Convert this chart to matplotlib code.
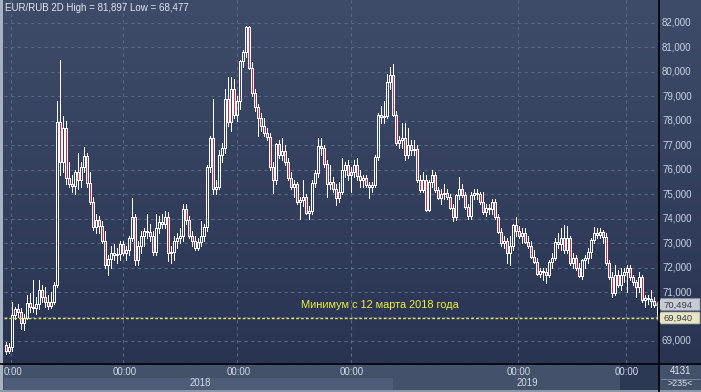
import matplotlib
matplotlib.use("Agg")
import matplotlib.pyplot as plt
import numpy as np
from matplotlib.patches import Rectangle, Polygon
from matplotlib.colors import LinearSegmentedColormap

plt.rcParams['font.family'] = ['Liberation Sans', 'DejaVu Sans']

# ---------------- data (EUR/RUB, 2D candles) ----------------
opens = [68.85, 68.60, 68.75, 70.05, 70.30, 70.20, 69.75, 69.95, 70.55, 70.40,
 70.35, 70.50, 71.10, 70.80, 70.60, 70.45, 70.60, 71.30, 77.95, 76.30,
 77.70, 75.66, 75.40, 75.35, 75.90, 75.60, 76.10, 76.55, 75.45, 74.70,
 73.65, 73.95, 73.70, 73.10, 72.10, 72.35, 72.60, 72.50, 72.55, 72.95,
 72.60, 72.70, 73.20, 74.05, 72.30, 72.90, 73.30, 73.50, 73.45, 73.30,
 72.65, 73.60, 73.85, 73.80, 74.05, 72.60, 72.65, 73.10, 73.20, 73.30,
 74.40, 73.95, 73.30, 73.10, 72.80, 73.05, 73.30, 73.65, 76.10, 77.30,
 75.20, 75.30, 76.60, 76.90, 78.90, 77.95, 79.30, 78.25, 78.80, 80.45,
 80.80, 81.84, 80.16, 79.14, 78.56, 78.10, 77.80, 77.50, 77.35, 76.10,
 75.58, 77.05, 76.60, 76.75, 76.30, 75.66, 75.30, 75.40, 74.68, 74.75,
 74.90, 74.25, 74.30, 75.45, 75.86, 76.97, 76.90, 76.23, 75.40, 75.50,
 75.20, 74.85, 75.10, 75.98, 76.20, 75.80, 75.90, 76.20, 75.75, 75.60,
 75.66, 75.38, 75.30, 75.38, 76.52, 78.24, 78.15, 78.20, 79.58, 79.87,
 78.24, 77.10, 77.20, 77.30, 76.60, 77.00, 76.80, 76.85, 75.58, 75.17,
 75.60, 74.35, 75.50, 75.80, 75.17, 74.85, 75.00, 75.05, 74.90, 74.45,
 74.07, 74.95, 75.20, 74.97, 74.48, 74.10, 74.97, 75.05, 75.00, 74.70,
 74.27, 74.45, 74.40, 74.68, 74.07, 73.45, 73.00, 73.10, 72.60, 72.90,
 73.74, 73.50, 73.30, 73.40, 73.05, 72.90, 72.45, 72.23, 71.74, 71.85,
 71.80, 71.70, 72.23, 72.40, 73.05, 72.95, 73.20, 72.70, 73.20, 72.20,
 72.40, 72.00, 71.65, 72.30, 72.40, 72.64, 73.13, 73.40, 73.35, 73.45,
 73.25, 72.18, 71.62, 70.96, 71.70, 71.30, 71.70, 71.80, 72.00, 71.60,
 71.40, 71.20, 71.60, 70.68, 70.75, 70.70, 70.62, 70.47]

highs = [68.95, 68.90, 70.60, 70.40, 70.50, 70.35, 70.10, 70.90, 70.95, 71.50,
 70.80, 71.50, 71.30, 71.20, 70.90, 71.00, 71.40, 78.80, 80.48, 78.20,
 78.00, 76.30, 75.80, 76.00, 76.70, 76.30, 76.95, 76.70, 75.90, 74.90,
 74.20, 74.10, 73.90, 73.50, 72.50, 72.90, 72.96, 72.80, 73.10, 73.10,
 72.90, 73.30, 74.85, 74.20, 73.10, 73.50, 73.60, 74.20, 73.80, 73.50,
 74.20, 74.10, 74.20, 74.30, 74.27, 72.90, 73.30, 73.40, 73.60, 74.60,
 74.60, 74.10, 73.50, 73.30, 73.20, 73.90, 73.80, 76.20, 77.40, 78.90,
 75.60, 76.80, 77.10, 79.30, 79.80, 79.80, 79.70, 79.00, 80.50, 80.90,
 81.88, 81.897, 80.40, 79.30, 78.70, 78.30, 78.10, 77.70, 77.50, 76.30,
 77.10, 77.20, 77.30, 77.00, 76.50, 75.90, 75.60, 75.50, 74.90, 75.60,
 75.00, 74.50, 75.60, 76.00, 77.30, 77.30, 77.00, 76.40, 76.20, 75.70,
 75.40, 75.50, 76.50, 76.30, 76.40, 76.10, 76.40, 76.50, 76.00, 75.80,
 75.80, 75.50, 75.50, 76.60, 78.30, 78.60, 78.80, 79.90, 80.20, 80.32,
 78.40, 77.40, 77.90, 77.90, 77.70, 77.20, 77.20, 77.00, 75.80, 75.90,
 75.80, 75.60, 76.00, 75.90, 75.30, 75.20, 75.40, 75.20, 75.00, 74.60,
 75.00, 75.70, 75.40, 75.10, 74.60, 75.10, 75.20, 75.20, 75.10, 75.10,
 74.60, 74.60, 74.80, 74.80, 74.20, 73.60, 73.30, 73.20, 73.30, 73.80,
 74.07, 73.70, 73.60, 73.60, 73.30, 73.10, 72.70, 72.40, 72.00, 72.00,
 72.00, 72.30, 72.60, 73.20, 73.40, 73.60, 73.74, 73.70, 73.30, 72.60,
 72.50, 72.20, 72.35, 72.50, 72.80, 73.20, 73.65, 73.60, 73.60, 73.55,
 73.40, 72.30, 71.80, 72.10, 71.90, 72.00, 72.00, 72.10, 72.10, 71.70,
 71.50, 71.80, 71.70, 70.90, 70.90, 71.10, 70.80, 70.60]

lows = [68.48, 68.50, 68.60, 69.90, 70.00, 69.50, 69.45, 69.90, 70.20, 70.20,
 70.10, 70.30, 70.60, 70.40, 70.30, 70.35, 70.50, 71.20, 75.80, 75.90,
 75.40, 75.30, 75.10, 75.00, 75.20, 75.30, 75.90, 75.30, 74.60, 73.55,
 73.40, 73.40, 73.00, 72.00, 71.70, 72.00, 72.30, 72.20, 72.30, 72.50,
 72.30, 72.50, 73.10, 72.10, 72.10, 72.60, 72.90, 73.20, 73.10, 72.50,
 72.50, 73.40, 73.60, 73.60, 72.25, 72.20, 72.30, 72.80, 73.00, 73.10,
 73.80, 73.20, 72.90, 72.70, 72.70, 72.90, 73.10, 73.50, 75.90, 75.00,
 75.00, 75.20, 76.30, 76.70, 77.80, 77.60, 78.10, 78.00, 78.50, 80.20,
 80.60, 80.10, 79.00, 78.40, 77.40, 77.60, 77.40, 77.20, 76.00, 75.05,
 75.40, 76.50, 76.40, 76.20, 75.60, 75.20, 74.90, 74.60, 74.00, 74.50,
 74.20, 74.00, 74.20, 75.30, 75.70, 76.60, 76.10, 74.90, 75.20, 75.10,
 74.56, 74.70, 75.00, 75.70, 75.60, 75.10, 75.70, 75.60, 75.30, 75.30,
 75.30, 74.85, 75.10, 75.30, 76.40, 77.90, 77.90, 78.10, 79.30, 78.20,
 77.00, 76.90, 76.90, 76.40, 76.50, 76.60, 76.60, 75.50, 75.10, 75.10,
 74.30, 74.30, 75.30, 75.10, 74.80, 74.60, 74.80, 74.80, 74.40, 73.90,
 73.95, 74.80, 74.90, 74.40, 74.00, 74.00, 74.80, 74.80, 74.60, 74.20,
 74.10, 74.20, 74.20, 74.00, 73.40, 72.90, 72.80, 72.20, 72.10, 72.70,
 73.30, 73.20, 73.00, 73.00, 72.80, 72.40, 72.20, 71.70, 71.60, 71.50,
 71.37, 71.60, 72.00, 72.30, 72.80, 72.70, 72.60, 72.60, 72.10, 72.00,
 71.90, 71.60, 71.55, 72.00, 72.20, 72.40, 73.00, 73.20, 73.20, 73.00,
 72.10, 71.55, 70.80, 70.90, 71.20, 71.10, 71.40, 71.00, 71.50, 71.30,
 70.80, 71.00, 70.60, 70.40, 70.50, 70.40, 70.40, 69.94]

closes = [68.60, 68.75, 70.05, 70.30, 70.20, 69.75, 69.95, 70.55, 70.40, 70.35,
 70.50, 71.10, 70.80, 70.60, 70.45, 70.60, 71.30, 77.95, 76.30, 77.70,
 75.66, 75.40, 75.35, 75.90, 75.60, 76.10, 76.55, 75.45, 74.70, 73.65,
 73.95, 73.70, 73.10, 72.10, 72.35, 72.60, 72.50, 72.55, 72.95, 72.60,
 72.70, 73.20, 74.05, 72.30, 72.90, 73.30, 73.50, 73.45, 73.30, 72.65,
 73.60, 73.85, 73.80, 74.05, 72.60, 72.65, 73.10, 73.20, 73.30, 74.40,
 73.95, 73.30, 73.10, 72.80, 73.05, 73.30, 73.65, 76.10, 77.30, 75.20,
 75.30, 76.60, 76.90, 78.90, 77.95, 79.30, 78.25, 78.80, 80.45, 80.80,
 81.84, 80.16, 79.14, 78.56, 78.10, 77.80, 77.50, 77.35, 76.10, 75.58,
 77.05, 76.60, 76.75, 76.30, 75.66, 75.30, 75.40, 74.68, 74.75, 74.90,
 74.25, 74.30, 75.45, 75.86, 76.97, 76.90, 76.23, 75.40, 75.50, 75.20,
 74.85, 75.10, 75.98, 76.20, 75.80, 75.90, 76.20, 75.75, 75.60, 75.66,
 75.38, 75.30, 75.38, 76.52, 78.24, 78.15, 78.20, 79.58, 79.87, 78.24,
 77.10, 77.20, 77.30, 76.60, 77.00, 76.80, 76.85, 75.58, 75.17, 75.60,
 74.35, 75.50, 75.80, 75.17, 74.85, 75.00, 75.05, 74.90, 74.45, 74.07,
 74.95, 75.20, 74.97, 74.48, 74.10, 74.97, 75.05, 75.00, 74.70, 74.27,
 74.45, 74.40, 74.68, 74.07, 73.45, 73.00, 73.10, 72.60, 72.90, 73.74,
 73.50, 73.30, 73.40, 73.05, 72.90, 72.45, 72.23, 71.74, 71.85, 71.80,
 71.70, 72.23, 72.40, 73.05, 72.95, 73.20, 72.70, 73.20, 72.20, 72.40,
 72.00, 71.65, 72.30, 72.40, 72.64, 73.13, 73.40, 73.35, 73.45, 73.25,
 72.18, 71.62, 70.96, 71.70, 71.30, 71.70, 71.80, 72.00, 71.60, 71.40,
 71.20, 71.60, 70.68, 70.75, 70.70, 70.62, 70.47, 70.494]

price_ticks = [69, 70, 71, 72, 73, 74, 75, 76, 77, 78, 79, 80, 81, 82]
time_grid_idx = [1.67, 39.33, 77.33, 115.0, 170.67, 206.67]
time_labels = ["0:00", "00:00", "00:00", "00:00", "00:00", "00:00"]
years = ["2018", "2019"]
year_center_idx = [65.0, 174.0]
title = "EUR/RUB 2D High = 81,897 Low = 68,477"
min_level = 69.94
last_price = 70.494
min_note = "Минимум с 12 марта 2018 года"
corner_top, corner_bottom = "4131", ">235<"

# ---------------- layout ----------------
W, H = 701, 392
PL, PR, PB = 4, 658, 363          # plot area in pixels
YMIN, YMAX = 68.10, 82.94
fig = plt.figure(figsize=(W / 100, H / 100), dpi=100)

bg = fig.add_axes([0, 0, 1, 1], zorder=0)
bg.set_xlim(0, W); bg.set_ylim(H, 0); bg.axis('off')
grad = np.linspace(0, 1, 256).reshape(-1, 1)
cmap = LinearSegmentedColormap.from_list('g', ['#3f4c69', '#283452'])
bg.imshow(grad, cmap=cmap, extent=(0, W, PB, 0), aspect='auto', interpolation='bilinear')
bg.add_patch(Rectangle((0, PB), W, H - PB, color='#44516b', lw=0))
bg.add_patch(Rectangle((PL, 378), 389, 12, color='#4e5c77', lw=0))
bg.add_patch(Rectangle((620, PB), PR - 620, H - PB, color='#2c3954', lw=0))
bg.add_patch(Rectangle((0, 0), 3, H, color='#a8b2c2', lw=0))
bg.add_patch(Rectangle((0, H - 2), W, 2, color='#8a96aa', lw=0))

ax = fig.add_axes([PL / W, 1 - PB / H, (PR - PL) / W, PB / H], zorder=2)
ax.patch.set_alpha(0)
for s in ax.spines.values():
    s.set_visible(False)
ax.set_xticks([]); ax.set_yticks([])
n = len(closes)
STEP = 3.0                          # pixels per candle
ax.set_xlim(-0.5, -0.5 + (PR - PL) / STEP)
ax.set_ylim(YMIN, YMAX)

grid_kw = dict(color='#58667f', lw=0.8, linestyle=(0, (3, 3)), zorder=1)
ax.hlines(price_ticks, *ax.get_xlim(), **grid_kw)
ax.vlines(time_grid_idx, YMIN, YMAX, **grid_kw)

xs = np.arange(n)
o = np.array(opens); c = np.array(closes); h = np.array(highs); l = np.array(lows)
top = np.maximum(o, c); bot = np.minimum(o, c)
px = 1.0 / STEP
lw1 = 0.72
kw = dict(color='white', lw=lw1, zorder=3, antialiased=False)
ax.vlines(xs, top, h, **kw)
ax.vlines(xs, l, bot, **kw)
down = c < o
ax.vlines(xs[down], bot[down], top[down], color='#c8304e', lw=lw1, zorder=3,
          antialiased=False)
ax.vlines(xs - px, bot, top, **kw)
ax.vlines(xs + px, bot, top, **kw)
ax.hlines(top, xs - px, xs + px, **kw)
ax.hlines(bot, xs - px, xs + px, **kw)

ax.axhline(min_level, color='#e6e26a', lw=1.0, linestyle=(0, (2, 1.5)), zorder=5)
ax.text(98.5, 70.47, min_note, color='#f2f03c', fontsize=7.9,
        ha='left', va='center', zorder=6)

# frame lines
bg2 = fig.add_axes([0, 0, 1, 1], zorder=5)
bg2.set_xlim(0, W); bg2.set_ylim(H, 0); bg2.axis('off'); bg2.patch.set_alpha(0)
bg2.plot([0, W], [PB + 0.5, PB + 0.5], color='black', lw=1.2)
bg2.plot([PR + 0.5, PR + 0.5], [0, H], color='black', lw=1.2)
bg2.plot([661, 699], [378.5, 378.5], color='#7d8aa2', lw=0.6)

def vpix(v):
    return PB * (YMAX - v) / (YMAX - YMIN)

def fmt(v):
    return f"{v:.3f}".replace('.', ',')

tags = [(last_price, '#c6cad2'), (min_level, '#e8e6c2')]
lab_col = '#c9d2e3'
for v in price_ticks:
    if any(abs(vpix(v) - vpix(t)) < 9 for t, _ in tags):
        continue                      # hidden under a price tag
    bg2.text(662, vpix(v), fmt(v), color=lab_col, fontsize=7.0, ha='left', va='center')

# price tags
for val, col in tags:
    yc = vpix(val)
    poly = Polygon([[656, yc], [661, yc - 6], [700, yc - 6], [700, yc + 6], [661, yc + 6]],
                   closed=True, facecolor=col, edgecolor='#8890a0', lw=0.5)
    bg2.add_patch(poly)
    bg2.text(663, yc + 0.5, fmt(val), color='#353c4e', fontsize=6.8, ha='left', va='center')

# time labels
for gi, lab in zip(time_grid_idx, time_labels):
    pxx = PL + 1.5 + STEP * gi
    if lab == "0:00":
        bg2.text(4, 372, lab, color='#d4dbe8', fontsize=6.9, ha='left', va='center')
    else:
        bg2.text(pxx + 1, 372, lab, color='#d4dbe8', fontsize=6.9, ha='center', va='center')
for yl, ci in zip(years, year_center_idx):
    bg2.text(PL + 1.5 + STEP * ci, 383.5, yl, color='#d4dbe8', fontsize=6.9,
             ha='center', va='center')

bg2.text(680, 371.5, corner_top, color='#e2e6ef', fontsize=6.9, ha='center', va='center')
bg2.text(680, 384, corner_bottom, color='#e2e6ef', fontsize=6.4, ha='center', va='center')

bg2.text(5, 8, title, color='#e2e6ee', fontsize=7.0, ha='left', va='center')

fig.savefig('out.png', dpi=100)
